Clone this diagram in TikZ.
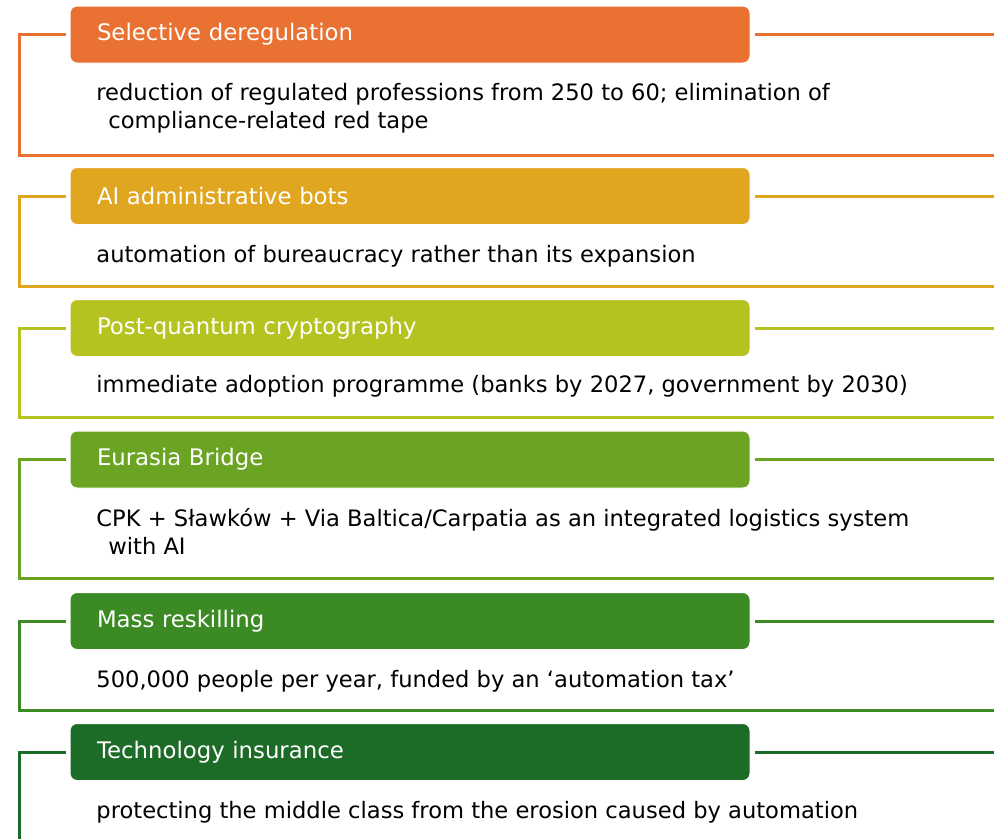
\documentclass[tikz,border=0pt]{standalone}
\usepackage{fontspec}
\setmainfont{DejaVu Sans}
\usepackage{xcolor}
\definecolor{cOrange}{HTML}{E97132}
\definecolor{cGold}{HTML}{E0A61F}
\definecolor{cLime}{HTML}{B5C21F}
\definecolor{cGreen}{HTML}{6BA422}
\definecolor{cMid}{HTML}{3B8A24}
\definecolor{cDark}{HTML}{1C6B26}

\begin{document}
\begin{tikzpicture}[x=1pt,y=-1pt,thick,
    head node/.style={draw=white,line width=1pt,rounded corners=7pt,minimum width=680pt,minimum height=57pt,text width=626pt,inner xsep=27pt,align=left,text=white,font=\fontsize{22.8}{27}\selectfont},
    body node/.style={anchor=base west,inner sep=0pt,align=left,font=\fontsize{22.6}{28}\selectfont},
    frame/.style={line width=3pt}]
    \useasboundingbox (0,0) rectangle (994,839);

    \node[head node,fill=cOrange] (h1) at (410,34.5) {Selective deregulation};
    \node[head node,fill=cGold] (h2) at (410,196) {AI administrative bots};
    \node[head node,fill=cLime] (h3) at (410,328) {Post-quantum cryptography};
    \node[head node,fill=cGreen] (h4) at (410,459.5) {Eurasia Bridge};
    \node[head node,fill=cMid] (h5) at (410,621) {Mass reskilling};
    \node[head node,fill=cDark] (h6) at (410,752) {Technology insurance};

    \node[body node] (b1) at (96,128) {reduction of regulated professions from 250 to 60; elimination of\\\hspace*{12pt}compliance-related red tape};
    \node[body node] (b2) at (96,262) {automation of bureaucracy rather than its expansion};
    \node[body node] (b3) at (96,392) {immediate adoption programme (banks by 2027, government by 2030)};
    \node[body node] (b4) at (96,554) {CPK + Sławków + Via Baltica/Carpatia as an integrated logistics system\\\hspace*{12pt}with AI};
    \node[body node] (b5) at (96,687) {500,000 people per year, funded by an ‘automation tax’};
    \node[body node] (b6) at (96,818) {protecting the middle class from the erosion caused by automation};

    \coordinate (l1) at (19,155);  \coordinate (r1) at (994,155);
    \coordinate (l2) at (19,286);  \coordinate (r2) at (994,286);
    \coordinate (l3) at (19,417);  \coordinate (r3) at (994,417);
    \coordinate (l4) at (19,578);  \coordinate (r4) at (994,578);
    \coordinate (l5) at (19,710);  \coordinate (r5) at (994,710);
    \coordinate (l6) at (19,839);

    \draw[frame,cOrange] ([xshift=-4pt]h1.west) -| (l1) -- (r1);
    \draw[frame,cOrange] ([xshift=4pt]h1.east) -- (h1.east -| r1);
    \draw[frame,cGold] ([xshift=-4pt]h2.west) -| (l2) -- (r2);
    \draw[frame,cGold] ([xshift=4pt]h2.east) -- (h2.east -| r2);
    \draw[frame,cLime] ([xshift=-4pt]h3.west) -| (l3) -- (r3);
    \draw[frame,cLime] ([xshift=4pt]h3.east) -- (h3.east -| r3);
    \draw[frame,cGreen] ([xshift=-4pt]h4.west) -| (l4) -- (r4);
    \draw[frame,cGreen] ([xshift=4pt]h4.east) -- (h4.east -| r4);
    \draw[frame,cMid] ([xshift=-4pt]h5.west) -| (l5) -- (r5);
    \draw[frame,cMid] ([xshift=4pt]h5.east) -- (h5.east -| r5);
    \draw[frame,cDark] ([xshift=-4pt]h6.west) -| (l6);
    \draw[frame,cDark] ([xshift=4pt]h6.east) -- (h6.east -| r5);
\end{tikzpicture}
\end{document}
